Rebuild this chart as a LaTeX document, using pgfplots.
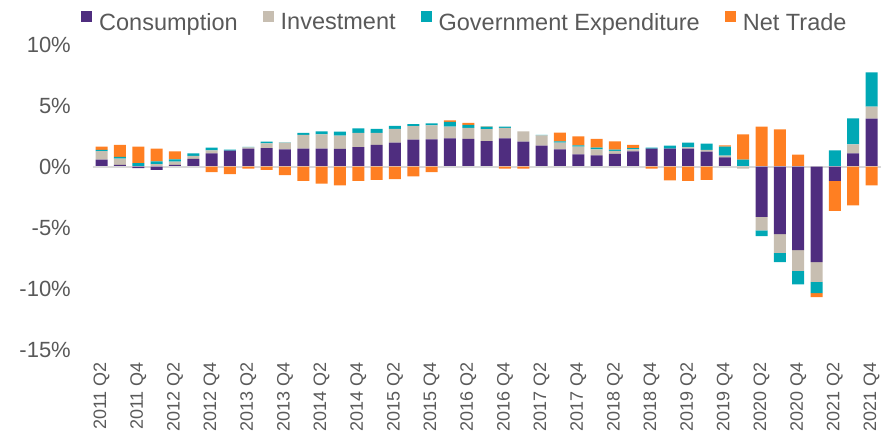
\documentclass[border=0pt]{standalone}
\usepackage{fontspec}
\setmainfont{Liberation Sans}
\usepackage{pgfplots}
\usepackage{pgfplotstable}
\pgfplotsset{compat=1.18}
\definecolor{cons}{HTML}{4F2D7F}
\definecolor{inv}{HTML}{C7BEB1}
\definecolor{gov}{HTML}{00A8B5}
\definecolor{net}{HTML}{FF7F22}
\definecolor{txt}{HTML}{595959}
\definecolor{zl}{HTML}{D9D9D9}

\pgfplotstableread{
x cp ip gp np
0 0.57 0.71 0.10 0.27
1 0.14 0.52 0.14 0.98
2 0 0 0.30 1.34
3 0 0.22 0.22 1.04
4 0.14 0.27 0.19 0.66
5 0.63 0.25 0.22 0
6 1.09 0.25 0.22 0
7 1.31 0 0.08 0
8 1.48 0.10 0.04 0
9 1.53 0.38 0.14 0
10 1.42 0.55 0.02 0
11 1.48 1.12 0.16 0
12 1.48 1.17 0.25 0
13 1.45 1.09 0.33 0
14 1.61 1.15 0.38 0
15 1.78 0.98 0.33 0
16 1.97 1.12 0.25 0
17 2.21 1.12 0.16 0
18 2.24 1.15 0.16 0
19 2.32 0.96 0.38 0.14
20 2.27 0.90 0.25 0.16
21 2.10 0.98 0.19 0.03
22 2.32 0.85 0.10 0
23 2.05 0.85 0 0
24 1.72 0.85 0.03 0
25 1.42 0.55 0.10 0.71
26 1.01 0.63 0.11 0.74
27 0.93 0.49 0.14 0.71
28 1.04 0.25 0.11 0.68
29 1.26 0.16 0.10 0.27
30 1.48 0 0.08 0
31 1.48 0 0.25 0
32 1.48 0.10 0.38 0
33 1.23 0.14 0.52 0
34 0.77 0.14 0.74 0.10
35 0 0 0.57 2.08
36 0 0 0 3.28
37 0 0 0 3.06
38 0 0 0 0.98
39 0 0 0 0
40 0 0 1.34 0
41 1.09 0.74 2.13 0
42 3.93 0.98 2.81 0
}\pos

\pgfplotstableread{
x cn in gn nn
0 0 0 0 0
1 0 0 0 0
2 -0.12 0 0 0
3 -0.25 0 0 0
4 0 0 0 0
5 0 0 0 0
6 0 0 0 -0.44
7 0 0 0 -0.60
8 0 0 0 -0.15
9 0 0 0 -0.25
10 0 0 0 -0.68
11 0 0 0 -1.15
12 0 0 0 -1.39
13 0 0 0 -1.53
14 0 0 0 -1.17
15 0 0 0 -1.07
16 0 0 0 -1.01
17 0 0 0 -0.79
18 0 0 0 -0.44
19 0 0 0 0
20 0 0 0 0
21 0 0 0 0
22 0 0 0 -0.15
23 0 0 0 -0.15
24 0 0 0 0
25 0 0 0 0
26 0 0 0 0
27 0 0 0 0
28 0 0 0 0
29 0 0 0 0
30 0 0 0 -0.15
31 0 0 0 -1.12
32 0 0 0 -1.17
33 0 0 0 -1.07
34 0 0 0 0
35 0 -0.15 0 0
36 -4.10 -1.12 -0.46 0
37 -5.52 -1.53 -0.76 0
38 -6.83 -1.69 -1.12 0
39 -7.81 -1.61 -0.93 -0.33
40 -1.15 0 0 -2.46
41 0 0 0 -3.17
42 0 0 0 -1.53
}\neg

\pgfplotsset{common/.style={
  scale only axis, width=788.2bp, height=305.5bp,
  xmin=-0.5, xmax=42.5, ymin=-15, ymax=10,
  ybar stacked, bar width=12bp,
  axis line style={draw=none}, tick style={draw=none},
  major tick length=0pt,
  at={(92.5bp,85bp)}, anchor=south west,
  clip=false
}}

\begin{document}
\begin{tikzpicture}
\path[use as bounding box] (0,0) rectangle (881bp,435bp);
\begin{axis}[common,
  ytick={-15,-10,-5,0,5,10},
  yticklabels={-15\%,-10\%,-5\%,0\%,5\%,10\%},
  yticklabel style={font=\fontsize{22bp}{26bp}\selectfont, text=txt, inner sep=0pt, anchor=east, xshift=-21.5bp},
  xtick={0,2,...,42},
  xticklabels={2011 Q2,2011 Q4,2012 Q2,2012 Q4,2013 Q2,2013 Q4,2014 Q2,2014 Q4,2015 Q2,2015 Q4,2016 Q2,2016 Q4,2017 Q2,2017 Q4,2018 Q2,2018 Q4,2019 Q2,2019 Q4,2020 Q2,2020 Q4,2021 Q2,2021 Q4},
  xticklabel style={font=\fontsize{18bp}{21bp}\selectfont, text=txt, inner sep=0pt, rotate=90, anchor=east, xshift=-12bp},
  legend columns=4,
  legend image code/.code={\fill[#1] (0bp,0.7bp) rectangle (11bp,11.2bp);},
  legend style={draw=none, fill=none, inner sep=0pt,
    at={(axis description cs:0,1)}, anchor=west, xshift=-11.5bp, yshift=23bp,
    font=\fontsize{23.5bp}{28bp}\selectfont, text=txt,
    nodes={inner sep=0pt},
    /tikz/every even column/.append style={column sep=25bp},
    /tikz/every odd column/.append style={column sep=7bp}},
]
\addplot[fill=cons, draw=none] table[x=x,y=cp]{\pos};
\addplot[fill=inv, draw=none] table[x=x,y=ip]{\pos};
\addplot[fill=gov, draw=none] table[x=x,y=gp]{\pos};
\addplot[fill=net, draw=none] table[x=x,y=np]{\pos};
\legend{Consumption,Investment,Government Expenditure,Net Trade}
\end{axis}
\begin{axis}[common, xtick=\empty, ytick=\empty]
\addplot[fill=cons, draw=none] table[x=x,y=cn]{\neg};
\addplot[fill=inv, draw=none] table[x=x,y=in]{\neg};
\addplot[fill=gov, draw=none] table[x=x,y=gn]{\neg};
\addplot[fill=net, draw=none] table[x=x,y=nn]{\neg};
\draw[zl, line width=2bp] (axis cs:-0.5,0) -- (axis cs:42.5,0);
\end{axis}
\end{tikzpicture}
\end{document}
